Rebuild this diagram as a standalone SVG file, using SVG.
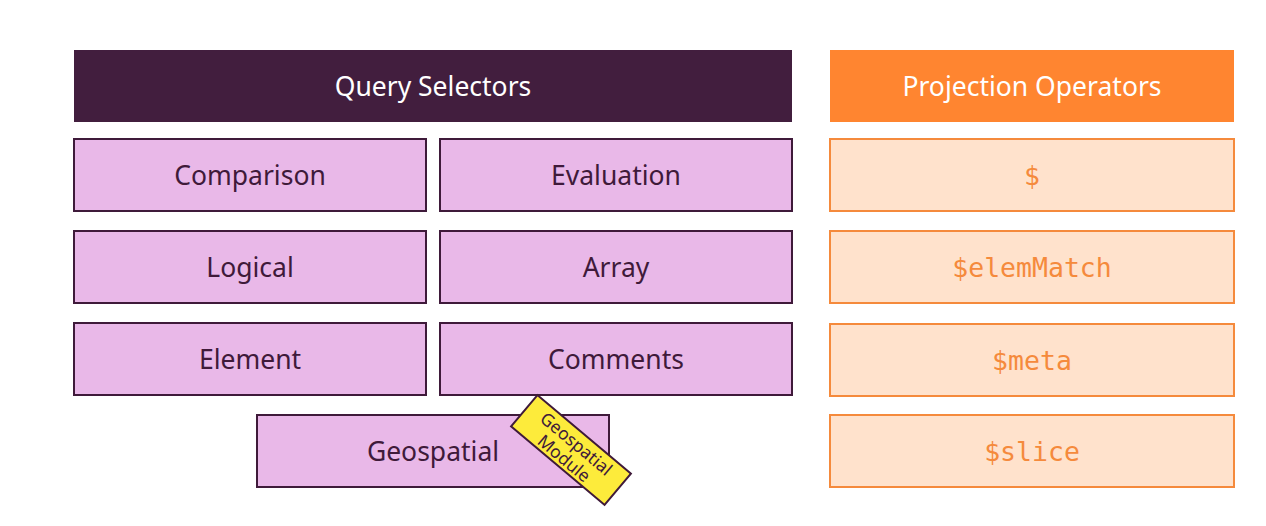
<svg xmlns="http://www.w3.org/2000/svg" width="1266" height="526" viewBox="0 0 1266 526">
<style>
.bg{fill:#ffffff}
.qs{fill:#421e3e}
.po{fill:#ff8530}
.pk{fill:#e9b8e8;stroke:#3f1a3a;stroke-width:2}
.or{fill:#ffe2cc;stroke:#f58a3c;stroke-width:2}
.yl{fill:#fdeb3b;stroke:#3f1a3a;stroke-width:2}
.ht{font-family:"Noto Sans",Lato,sans-serif;font-size:26.5px;fill:#ffffff;text-anchor:middle;dominant-baseline:central}
.pt{font-family:"Noto Sans",Lato,sans-serif;font-size:26.5px;fill:#3f1a3a;text-anchor:middle;dominant-baseline:central}
.mt{font-family:"DejaVu Sans Mono","Liberation Mono",monospace;font-size:26.5px;fill:#f58a3c;text-anchor:middle;dominant-baseline:central}
.yt{font-family:"Noto Sans",Lato,sans-serif;font-size:17.5px;fill:#3f1a3a;text-anchor:middle;dominant-baseline:central}
</style>
<rect class="bg" width="1266" height="526"/>
<g id="query-selectors"><rect class="qs" x="74" y="50" width="718" height="72"/><text class="ht" x="433" y="86">Query Selectors</text></g>
<g id="projection-operators"><rect class="po" x="830" y="50" width="404" height="72"/><text class="ht" x="1032" y="86">Projection Operators</text></g>
<g id="comparison"><rect class="pk" x="74" y="139" width="352" height="72"/><text class="pt" x="250" y="175">Comparison</text></g>
<g id="evaluation"><rect class="pk" x="440" y="139" width="352" height="72"/><text class="pt" x="616" y="175">Evaluation</text></g>
<g id="logical"><rect class="pk" x="74" y="231" width="352" height="72"/><text class="pt" x="250" y="267">Logical</text></g>
<g id="array"><rect class="pk" x="440" y="231" width="352" height="72"/><text class="pt" x="616" y="267">Array</text></g>
<g id="element"><rect class="pk" x="74" y="323" width="352" height="72"/><text class="pt" x="250" y="359">Element</text></g>
<g id="comments"><rect class="pk" x="440" y="323" width="352" height="72"/><text class="pt" x="616" y="359">Comments</text></g>
<g id="geospatial"><rect class="pk" x="257" y="415" width="352" height="72"/><text class="pt" x="433" y="451">Geospatial</text></g>
<g id="dollar"><rect class="or" x="830" y="139" width="404" height="72"/><text class="mt" x="1032" y="175">$</text></g>
<g id="elemMatch"><rect class="or" x="830" y="231" width="404" height="72"/><text class="mt" x="1032" y="267">$elemMatch</text></g>
<g id="meta"><rect class="or" x="830" y="324" width="404" height="72"/><text class="mt" x="1032" y="360">$meta</text></g>
<g id="slice"><rect class="or" x="830" y="415" width="404" height="72"/><text class="mt" x="1032" y="451">$slice</text></g>
<g id="geospatial-module" transform="translate(571 450) rotate(40)"><rect class="yl" x="-61" y="-20.5" width="122" height="41"/><text class="yt" x="0" y="-9">Geospatial</text><text class="yt" x="0" y="10">Module</text></g>
<g id="connectors"></g>
</svg>
